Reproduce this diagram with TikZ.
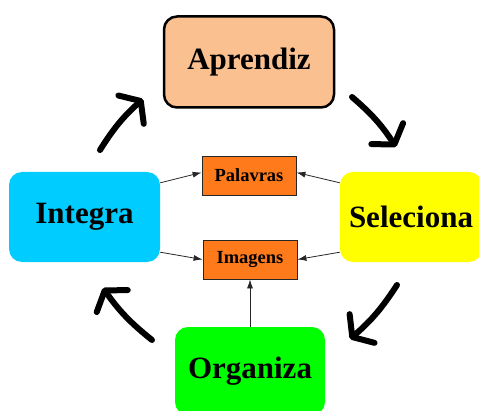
\documentclass[tikz,border=0pt]{standalone}
\usepackage{fontspec}
\setmainfont{Liberation Serif}
\usetikzlibrary{arrows.meta}
\definecolor{peach}{HTML}{FAC090}
\definecolor{carrot}{HTML}{FF7A1A}
\definecolor{skyblue}{HTML}{00CCFF}
\definecolor{lemon}{HTML}{FFFF00}
\definecolor{lime}{HTML}{00FF00}
\newcommand*{\BigLabel}{\fontsize{31}{35}\selectfont\bfseries}
\newcommand*{\SmallLabel}{\fontsize{18.5}{21}\selectfont\bfseries}

\begin{document}
\begin{tikzpicture}[x=1pt, y=1pt,
    stagebox/.style={rounded corners=13pt, inner sep=0pt, font=\BigLabel},
    wordbox/.style={draw=black!85, line width=0.8pt, fill=carrot, inner sep=0pt,
        minimum width=94pt, minimum height=39pt, font=\SmallLabel},
    link/.style={line width=0.8pt, black!85, -{Latex[length=9pt, width=6pt]}},
    cycle/.style={line width=6pt, line cap=round,
        -{Straight Barb[length=13pt, width=38pt, round]}}]
    \useasboundingbox (0,0) rectangle (479,410);

    % the four stages of the cycle
    \node[stagebox, draw=black, line width=2.5pt, fill=peach,
        minimum width=170pt, minimum height=91pt] (aprendiz) at (249,348) {Aprendiz};
    \node[stagebox, fill=lemon, minimum width=142pt, minimum height=90pt]
        (seleciona) at (411,193) {Seleciona};
    \node[stagebox, fill=lime, minimum width=150pt, minimum height=88pt]
        (organiza) at (250,39) {Organiza};
    \node[stagebox, fill=skyblue, minimum width=151pt, minimum height=90pt]
        (integra) at (84.5,193) {Integra};

    % words and images
    \node[wordbox] (palavras) at (249,234.5) {Palavras};
    \node[wordbox] (imagens) at (250,150.5) {Imagens};

    \draw[link] ([yshift=-11pt]integra.north east) -- ([yshift=3pt]palavras.west);
    \draw[link] ([yshift=10pt]integra.south east) -- (imagens.west);
    \draw[link] ([yshift=-11pt]seleciona.north west) -- ([yshift=3pt]palavras.east);
    \draw[link] ([yshift=10pt]seleciona.south west) -- (imagens.east);
    \draw[link] (organiza.north) -- (imagens.south);

    % big arrows going round
    \coordinate (tlA) at (100,260); \coordinate (tlB) at (143,311);
    \coordinate (trA) at (352,313); \coordinate (trB) at (396,263);
    \coordinate (brA) at (397,125); \coordinate (brB) at (350,71);
    \coordinate (blA) at (152,70);  \coordinate (blB) at (103,122);
    \foreach \A/\B in {tlA/tlB, trA/trB, brA/brB, blA/blB}
        \draw[cycle] (\A) to[bend left=8] (\B);
\end{tikzpicture}
\end{document}
